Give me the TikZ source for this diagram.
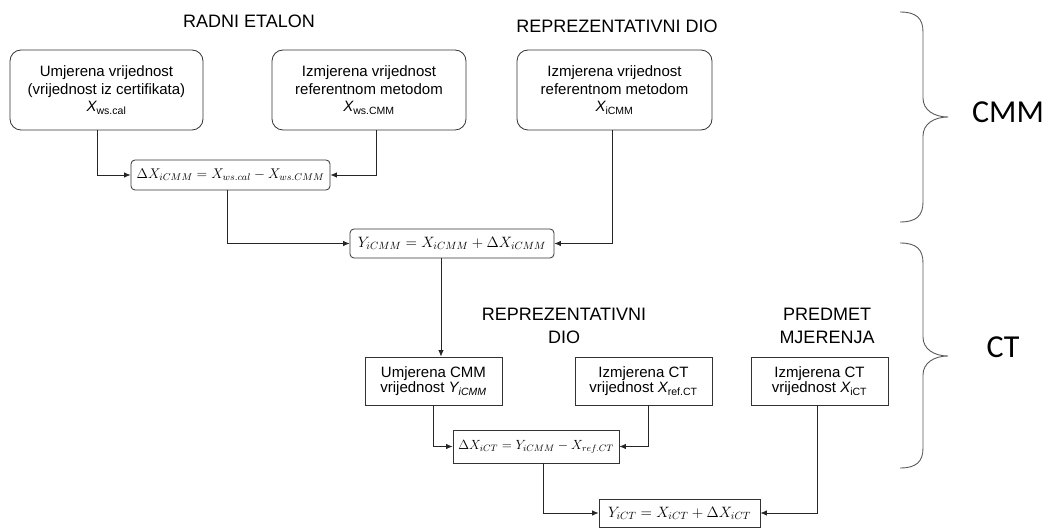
\RequirePackage{fix-cm}
\documentclass[tikz,border=0pt]{standalone}
\usepackage{fontspec}
\setmainfont{Liberation Sans}
\newfontfamily\calib{Carlito}
\usetikzlibrary{arrows.meta,calc}
\begin{document}
\begin{tikzpicture}[x=1pt,y=-1pt,
  every path/.style={line width=0.8pt},
  rbox/.style={draw=black!80, rounded corners=11pt, align=center, inner sep=0pt,
    minimum height=80pt, font=\fontsize{15}{17.5}\selectfont},
  sbox/.style={draw=black!80, align=center, inner sep=0pt,
    minimum width=137pt, minimum height=48pt, font=\fontsize{15}{15.5}\selectfont},
  eqr/.style={draw=black!80, rounded corners=4pt, inner sep=0pt, font=\fontsize{15}{18}\selectfont},
  eqs/.style={draw=black!80, inner sep=0pt, font=\fontsize{15}{18}\selectfont},
  ttl/.style={font=\fontsize{18}{23}\selectfont, align=center},
  big/.style={font=\calib\fontsize{32}{36}\selectfont},
  arr/.style={draw=black!85, -{Latex[length=6.5pt,width=5.5pt]}},
  brc/.style={draw=black!65, line width=0.9pt}
]
\useasboundingbox (0,0) rectangle (1055,529);

% titles
\node[ttl] (t1) at (249,21) {RADNI ETALON};
\node[ttl] (t2) at (617,26) {REPREZENTATIVNI DIO};
\node[ttl] (t3) at (564,326) {REPREZENTATIVNI\\DIO};
\node[ttl] (t4) at (827,326) {PREDMET\\MJERENJA};

% top boxes
\node[rbox, minimum width=193pt] (b1) at (106.5,90)
  {Umjerena vrijednost\\(vrijednost iz certifikata)\\{\itshape X}\textsubscript{ws.cal}};
\node[rbox, minimum width=194pt] (b2) at (369,90)
  {Izmjerena vrijednost\\referentnom metodom\\{\itshape X}\textsubscript{ws.CMM}};
\node[rbox, minimum width=195pt] (b3) at (614.5,90)
  {Izmjerena vrijednost\\referentnom metodom\\{\itshape X}\textsubscript{iCMM}};

% equations
\node[eqr, minimum width=199pt, minimum height=30pt, font=\fontsize{14}{17}\selectfont] (e1) at (230.5,175)
  {$\Delta X_{iCMM} = X_{ws.cal} - X_{ws.CMM}$};
\node[eqr, minimum width=204pt, minimum height=29pt] (e2) at (452,243.5)
  {$Y_{iCMM} = X_{iCMM} + \Delta X_{iCMM}$};

% lower boxes
\node[sbox] (c1) at (433.5,381) {Umjerena CMM\\vrijednost {\itshape Y}\textsubscript{\itshape iCMM}};
\node[sbox] (c2) at (643.5,381) {Izmjerena CT\\vrijednost {\itshape X}\textsubscript{ref.CT}};
\node[sbox] (c3) at (819.5,381) {Izmjerena CT\\vrijednost {\itshape X}\textsubscript{iCT}};

\node[eqs, minimum width=166pt, minimum height=33pt, font=\fontsize{13.3}{16}\selectfont] (e3) at (536,446.5)
  {$\Delta X_{iCT} = Y_{iCMM} - X_{ref.CT}$};
\node[eqs, minimum width=161pt, minimum height=28pt] (e4) at (679.5,513)
  {$Y_{iCT} = X_{iCT} + \Delta X_{iCT}$};

% connectors
\draw[arr] ([xshift=-9.5pt]b1.south) |- (e1.west);
\draw[arr] ([xshift=7pt]b2.south) |- (e1.east);
\draw[arr] ([xshift=-3.5pt]e1.south) |- (e2.west);
\draw[arr] ([xshift=-2.5pt]b3.south) |- (e2.east);
\coordinate (k) at ([xshift=-11pt]e2.south);
\draw[arr] (k) -- (k |- c1.north);
\draw[arr] (c1.south) |- (e3.west);
\draw[arr] ([xshift=4.5pt]c2.south) |- (e3.east);
\draw[arr] ([xshift=7pt]e3.south) |- (e4.west);
\draw[arr] ([xshift=-2.5pt]c3.south) |- (e4.east);

% braces
\draw[brc] (900,12) .. controls (916,12) and (923,18) .. (923,32) -- (923,98)
  .. controls (923,110) and (934,117) .. (948,117)
  .. controls (934,117) and (923,124) .. (923,136) -- (923,202)
  .. controls (923,216) and (916,222) .. (900,222);
\draw[brc] (900,243) .. controls (916,243) and (923,249) .. (923,263) -- (923,337)
  .. controls (923,349) and (934,356) .. (948,356)
  .. controls (934,356) and (923,363) .. (923,375) -- (923,448)
  .. controls (923,462) and (916,468) .. (900,468);

\node[big, anchor=base] (cmm) at (1008,123) {CMM};
\node[big, anchor=base] (ct) at (1003,358) {CT};
\end{tikzpicture}
\end{document}
